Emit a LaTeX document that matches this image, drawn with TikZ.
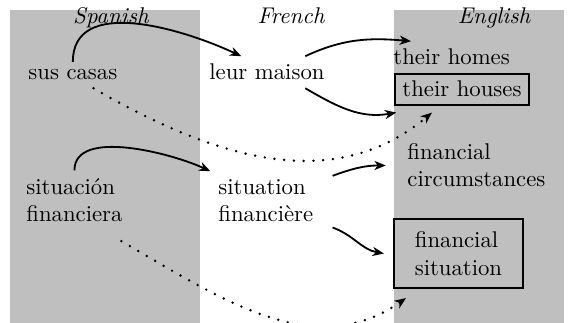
\documentclass[tikz,border=0pt]{standalone}
\usetikzlibrary{arrows.meta}
\begin{document}
\begin{tikzpicture}[x=0.44pt,y=0.44pt,
  txt/.style={anchor=base west},
  hdr/.style={anchor=base,font=\itshape},
  boxed/.style={draw,thick},
  arr/.style={thick,-{Stealth[length=5pt,width=4pt,inset=1.5pt]}},
  dotarr/.style={line width=1.2pt,line cap=round,dash pattern=on 0pt off 4.3pt,
     -{Stealth[length=5pt,width=4pt,inset=1.5pt,line cap=butt]}}]
\useasboundingbox (0,0) rectangle (574,323);
\fill[lightgray] (10,0) rectangle (200,313);
\fill[lightgray] (394,0) rectangle (564,313);
\node[hdr] (hs) at (111,299) {Spanish};
\node[hdr] (hf) at (291,299) {French};
\node[hdr] (he) at (494,299) {English};
\node[txt] (sc) at (20.4,243) {sus casas};
\node[txt] (lm) at (201.4,243) {leur maison};
\node[txt] (th) at (385.4,258) {their homes};
\node[txt,boxed] (ths) at (394,226) {their houses};
\node[txt,align=left] (sf) at (18.4,101.5) {situación\\financiera};
\node[txt,align=left] (sfr) at (210.4,101.5) {situation\\financière};
\node[txt,align=left] (fc) at (399.4,136) {financial\\circumstances};
\node[boxed,align=left,minimum width=56.8pt,minimum height=30.4pt] (fs) at (458.5,69.5) {financial\\situation};
\draw[arr] (sc.north) to[out=90,in=155] (lm.148);
\draw[arr] ([xshift=-12pt]lm.north east) to[out=25,in=175] ([xshift=11.3pt]th.north west);
\draw[arr] ([xshift=-12pt]lm.south east) to[out=-30,in=190] ([shift={(1pt,-3pt)}]ths.south west);
\draw[dotarr] ([xshift=-14pt]sc.south east) to[out=-30,in=220] ([shift={(16.7pt,-3pt)}]ths.south west);
\draw[arr] (sf.north) to[out=90,in=155,looseness=0.8] (sfr.north west);
\draw[arr] ([shift={(5pt,-2pt)}]sfr.north east) to[out=20,in=180] ([xshift=-6pt]fc.west);
\draw[arr] ([shift={(5pt,1pt)}]sfr.south east) to[out=-20,in=170] ([xshift=-4pt]fs.west);
\draw[dotarr] ([shift={(-4pt,-5pt)}]sf.south east) to[out=-30,in=215] ([shift={(5.7pt,-4pt)}]fs.south west);
\end{tikzpicture}
\end{document}
